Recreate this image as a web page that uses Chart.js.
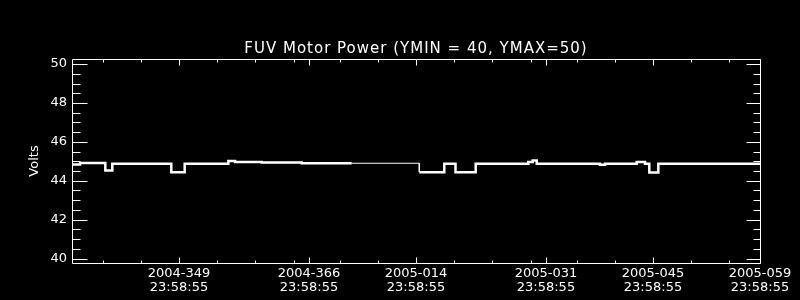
<!DOCTYPE html>
<html>
<head>
<meta charset="utf-8">
<script src="https://cdn.jsdelivr.net/npm/chart.js@4"></script>
<style>
  html, body { margin: 0; padding: 0; background: #000; }
  #c { display: block; }
</style>
</head>
<body>
<canvas id="c" width="800" height="300"></canvas>
<script>
// ---- data (time in days: 2004 day-of-year, 2005 days offset by 366; each at 23:58:55) ----
const titleText = 'FUV Motor Power (YMIN = 40, YMAX=50)';
const yTitle = 'Volts';
const xMin = 335, xMax = 425;
const yMin = 39.77, yMax = 50.26;

const stepTimes = [335.0, 336.05, 339.36, 340.27, 347.99, 349.74, 355.45, 356.33, 359.82, 365.05, 371.59,
                   376.0,
                   380.43, 383.70, 385.17, 387.81, 394.69, 395.27, 395.80, 404.07, 404.73, 408.87, 409.96, 410.52, 411.70, 425.0];
const stepVolts = [44.84, 44.91, 44.53, 44.88, 44.44, 44.87, 45.02, 44.96, 44.94, 44.90, 44.90,
                   null,
                   44.44, 44.87, 44.44, 44.88, 44.97, 45.04, 44.88, 44.82, 44.88, 44.97, 44.88, 44.42, 44.88, 44.88];
// data gap, joined by a straight line
const gapTimes = [371.59, 380.43, 380.43];
const gapVolts = [44.90, 44.90, 44.44];

const xMajorDays  = [349, 366, 380, 397, 411, 425];
const xTickDates  = ['2004-349', '2004-366', '2005-014', '2005-031', '2005-045', '2005-059'];
const xTickTimes  = ['23:58:55', '23:58:55', '23:58:55', '23:58:55', '23:58:55', '23:58:55'];
const xMinorDays  = [339, 344, 354, 359, 364, 370.07, 375, 385, 390, 395.07, 401, 406.07, 416, 421];
const yMajorTicks = [40, 42, 44, 46, 48, 50];
const yMinorTicks = [40.5, 41, 41.5, 42.5, 43, 43.5, 44.5, 45, 45.5, 46.5, 47, 47.5, 48.5, 49, 49.5];

const FONT = "'DejaVu Sans'";

const framePlugin = {
  id: 'idlFrame',
  beforeDraw(chart) {
    const tb = chart.titleBlock;
    if (tb && !tb._spaced) {
      const orig = tb.draw;
      tb.draw = function () {
        const c = this.ctx;
        c.save();
        c.letterSpacing = '1px';
        orig.apply(this, arguments);
        c.restore();
      };
      tb._spaced = true;
    }
  },
  afterDatasetsDraw(chart) {
    const { ctx, chartArea: a, scales: { x, y } } = chart;
    const L = Math.round(a.left) + 0.5, R = Math.round(a.right) + 0.5;
    const T = Math.round(a.top) + 0.5, B = Math.round(a.bottom) + 0.5;
    ctx.save();
    ctx.strokeStyle = '#fff';
    ctx.lineWidth = 1;
    ctx.beginPath();
    ctx.rect(L, T, R - L, B - T);
    const vline = (px, len) => {
      const xx = Math.round(px) + 0.5;
      ctx.moveTo(xx, B); ctx.lineTo(xx, B - len);
      ctx.moveTo(xx, T); ctx.lineTo(xx, T + len);
    };
    const hline = (py, lenL, lenR) => {
      const yy = Math.round(py) + 0.5;
      ctx.moveTo(L, yy); ctx.lineTo(L + lenL, yy);
      ctx.moveTo(R, yy); ctx.lineTo(R - lenR, yy);
    };
    xMajorDays.forEach(d => vline(x.getPixelForValue(d), 6));
    xMinorDays.forEach(d => vline(x.getPixelForValue(d), 3));
    yMajorTicks.forEach(v => hline(y.getPixelForValue(v), 15, 14));
    yMinorTicks.forEach(v => hline(y.getPixelForValue(v), 8, 7));
    ctx.stroke();
    ctx.restore();
  }
};

new Chart(document.getElementById('c'), {
  type: 'line',
  data: {
    datasets: [
      {
        data: stepTimes.map((t, i) => ({ x: t, y: stepVolts[i] })),
        borderColor: '#fff',
        borderWidth: 2.5,
        pointRadius: 0,
        stepped: 'before',
        spanGaps: false
      },
      {
        data: gapTimes.map((t, i) => ({ x: t, y: gapVolts[i] })),
        borderColor: '#fff',
        borderWidth: 1,
        pointRadius: 0
      }
    ]
  },
  options: {
    responsive: false,
    animation: false,
    devicePixelRatio: 1,
    layout: { padding: { left: 0, right: 40, top: 0, bottom: 0 } },
    plugins: {
      legend: { display: false },
      tooltip: { enabled: false },
      title: {
        display: true,
        fullSize: false,
        text: titleText,
        color: '#fff',
        font: { family: FONT, size: 15, weight: 'normal', lineHeight: 1.2 },
        padding: { top: 40, bottom: 1 }
      }
    },
    scales: {
      x: {
        type: 'linear',
        min: xMin, max: xMax,
        grid: { display: false, drawTicks: false },
        border: { display: false },
        afterBuildTicks: s => { s.ticks = xMajorDays.map(v => ({ value: v })); },
        afterFit: s => { s.height = 37; },
        ticks: {
          color: '#fff',
          autoSkip: false,
          maxRotation: 0,
          padding: 4,
          font: { family: FONT, size: 13, lineHeight: 1.05 },
          callback: (v, i) => [xTickDates[i], xTickTimes[i]]
        }
      },
      y: {
        min: yMin, max: yMax,
        grid: { display: false, drawTicks: false },
        border: { display: false },
        afterBuildTicks: s => { s.ticks = yMajorTicks.map(v => ({ value: v })); },
        afterFit: s => { s.width = 72; },
        ticks: {
          color: '#fff',
          padding: 5,
          font: { family: FONT, size: 13 },
          callback: v => String(v)
        },
        title: {
          display: true,
          text: yTitle,
          color: '#fff',
          font: { family: FONT, size: 13 },
          padding: { top: 27, bottom: 0 }
        }
      }
    }
  },
  plugins: [framePlugin]
});
</script>
</body>
</html>
